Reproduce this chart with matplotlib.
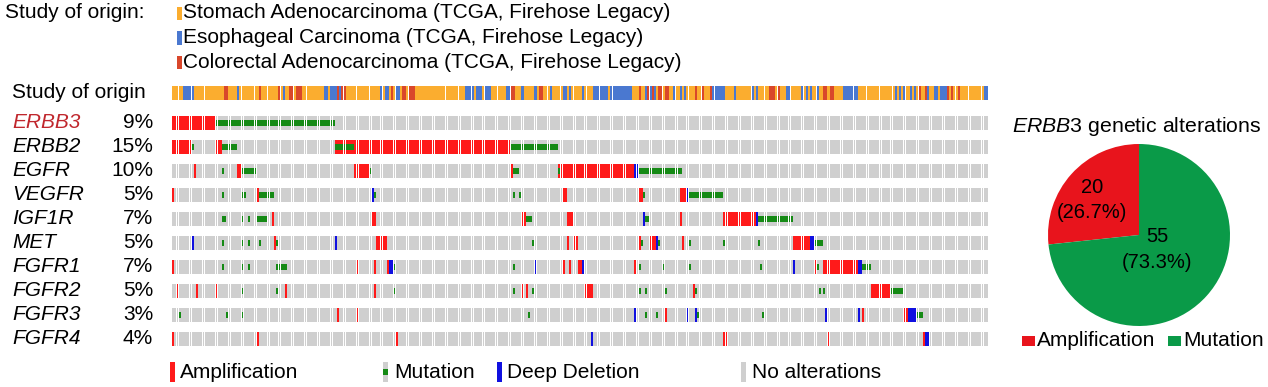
import numpy as np
import matplotlib
matplotlib.use("Agg")
import matplotlib.pyplot as plt
from matplotlib.patches import Rectangle
from matplotlib.transforms import blended_transform_factory

plt.rcParams['font.family'] = ['Liberation Sans', 'DejaVu Sans']
plt.rcParams['mathtext.fontset'] = 'custom'
plt.rcParams['mathtext.it'] = 'Liberation Sans:italic'
plt.rcParams['mathtext.rm'] = 'Liberation Sans'

# ---------------- data ----------------
genes = ["ERBB3", "ERBB2", "EGFR", "VEGFR", "IGF1R", "MET", "FGFR1", "FGFR2", "FGFR3", "FGFR4"]
percents = ["9%", "15%", "10%", "5%", "7%", "5%", "7%", "5%", "3%", "4%"]
n_samples = 376

study_names = ["Stomach Adenocarcinoma (TCGA, Firehose Legacy)",
               "Esophageal Carcinoma (TCGA, Firehose Legacy)",
               "Colorectal Adenocarcinoma (TCGA, Firehose Legacy)"]
study_keys = ["S", "E", "C"]
study_codes = ("SSSSS" "EEEEE" "SSSSSSSSSSSSSS" "CC" "SSSS" "ES" "SSSSSSSS" "CS" "SSSSSSS" "C"
               "SESS" "CCSCCCS" "SSSSSSSSS" "EESEEECECCS" "SSSSSSSSSSSSSSS" "ESEESCSEES"
               "CCSCCCS" "SSSSSSSSSS"
               "SSSSSSSSSSSS" "EEEESEEESEEE" "SSSSSSS" "EE" "CC" "SSSESSSSSES" "CC" "SSSESSSSS"
               "EESES" "SSSSESSSS" "EEEEEEESEEEEEEEEEE" "SSSCSS" "ECECESC" "CSCCSS" "ESSESESSS"
               "SCSSCSSSC" "EEEEEE" "SSSSESSSSSSS" "ESE" "SSSSS" "CCCSC" "SSS" "EE" "SSSSS"
               "ESESESSE" "SS" "CCSCC" "SSSS" "EEEEEEE" "SSSSSSSSSSSSSSSSS" "ESESESSESE"
               "SCSSCESS" "EESEEE" "CSCSSC" "SSSSSSSSSSS" "EE")

# (gene, first sample, last sample)
amp_events = [
    ("ERBB3", 0, 19),
    ("ERBB2", 0, 8), ("ERBB2", 20, 22), ("ERBB2", 75, 155),
    ("EGFR", 10, 10), ("EGFR", 30, 31), ("EGFR", 84, 90), ("EGFR", 156, 156), ("EGFR", 178, 212),
    ("VEGFR", 0, 0), ("VEGFR", 39, 39), ("VEGFR", 180, 181), ("VEGFR", 215, 216), ("VEGFR", 234, 236),
    ("IGF1R", 46, 46), ("IGF1R", 92, 93), ("IGF1R", 161, 162), ("IGF1R", 182, 184), ("IGF1R", 234, 234),
    ("IGF1R", 254, 268),
    ("MET", 47, 47), ("MET", 94, 98), ("MET", 182, 182), ("MET", 185, 186), ("MET", 215, 215),
    ("MET", 220, 222), ("MET", 235, 235), ("MET", 286, 293),
    ("FGFR1", 0, 0), ("FGFR1", 85, 85), ("FGFR1", 93, 93), ("FGFR1", 99, 99), ("FGFR1", 180, 180),
    ("FGFR1", 183, 183), ("FGFR1", 187, 188), ("FGFR1", 213, 213), ("FGFR1", 296, 296), ("FGFR1", 300, 315),
    ("FGFR2", 2, 2), ("FGFR2", 11, 11), ("FGFR2", 20, 20), ("FGFR2", 52, 52), ("FGFR2", 93, 93),
    ("FGFR2", 161, 161), ("FGFR2", 163, 163), ("FGFR2", 190, 193), ("FGFR2", 240, 240), ("FGFR2", 322, 330),
    ("FGFR3", 76, 76), ("FGFR3", 85, 85), ("FGFR3", 227, 227), ("FGFR3", 318, 318), ("FGFR3", 337, 338),
    ("FGFR4", 0, 0), ("FGFR4", 39, 39), ("FGFR4", 103, 103), ("FGFR4", 254, 255), ("FGFR4", 302, 302),
    ("FGFR4", 346, 346),
]
del_events = [
    ("EGFR", 213, 214),
    ("VEGFR", 92, 92), ("VEGFR", 237, 237),
    ("IGF1R", 217, 217), ("IGF1R", 269, 269),
    ("MET", 9, 9), ("MET", 75, 75), ("MET", 223, 223), ("MET", 294, 295),
    ("FGFR1", 100, 101), ("FGFR1", 167, 167), ("FGFR1", 189, 189), ("FGFR1", 286, 286), ("FGFR1", 316, 317),
    ("FGFR3", 213, 213), ("FGFR3", 237, 237), ("FGFR3", 241, 241), ("FGFR3", 301, 301), ("FGFR3", 316, 316),
    ("FGFR3", 339, 342),
    ("FGFR4", 193, 193), ("FGFR4", 347, 348),
]
mut_events = [
    ("ERBB3", 20, 74),
    ("ERBB2", 9, 9), ("ERBB2", 23, 29), ("ERBB2", 75, 83), ("ERBB2", 156, 177),
    ("EGFR", 23, 23), ("EGFR", 32, 38), ("EGFR", 91, 91), ("EGFR", 157, 159), ("EGFR", 178, 178),
    ("EGFR", 215, 234),
    ("VEGFR", 23, 23), ("VEGFR", 32, 33), ("VEGFR", 40, 46), ("VEGFR", 93, 93), ("VEGFR", 157, 157),
    ("VEGFR", 160, 160), ("VEGFR", 217, 217), ("VEGFR", 238, 253),
    ("IGF1R", 23, 24), ("IGF1R", 32, 32), ("IGF1R", 35, 35), ("IGF1R", 39, 43), ("IGF1R", 163, 165),
    ("IGF1R", 218, 219), ("IGF1R", 270, 285),
    ("MET", 23, 23), ("MET", 32, 32), ("MET", 35, 35), ("MET", 40, 40), ("MET", 48, 48), ("MET", 166, 166),
    ("MET", 216, 216), ("MET", 224, 224), ("MET", 238, 238), ("MET", 254, 254), ("MET", 270, 270),
    ("MET", 296, 299),
    ("FGFR1", 23, 23), ("FGFR1", 32, 32), ("FGFR1", 35, 35), ("FGFR1", 48, 52), ("FGFR1", 102, 102),
    ("FGFR1", 157, 157), ("FGFR1", 215, 215), ("FGFR1", 226, 226), ("FGFR1", 238, 238), ("FGFR1", 271, 271),
    ("FGFR1", 297, 297), ("FGFR1", 318, 321),
    ("FGFR2", 32, 32), ("FGFR2", 48, 48), ("FGFR2", 102, 102), ("FGFR2", 157, 157), ("FGFR2", 166, 166),
    ("FGFR2", 215, 215), ("FGFR2", 218, 218), ("FGFR2", 227, 227), ("FGFR2", 241, 241), ("FGFR2", 298, 298),
    ("FGFR2", 300, 300), ("FGFR2", 331, 336),
    ("FGFR3", 3, 3), ("FGFR3", 25, 25), ("FGFR3", 32, 32), ("FGFR3", 164, 164), ("FGFR3", 218, 218),
    ("FGFR3", 223, 223), ("FGFR3", 242, 242), ("FGFR3", 272, 272), ("FGFR3", 343, 345),
]

pie_labels = ["Amplification", "Mutation"]
pie_values = [20, 55]

# ---------------- styles ----------------
W, H = 1268, 387
C_AMP, C_MUT, C_DEL, C_NONE = "#ff1a1a", "#158a15", "#1010e0", "#cfcfcf"
study_colors = {"S": "#fbad2f", "E": "#4a78d0", "C": "#d9472b"}
PIE_RED, PIE_GREEN = "#e8141c", "#0a9a48"
FS = 15

fig = plt.figure(figsize=(W / 100, H / 100), dpi=100)

def fx(px):
    return px / W

def fy(py):
    return 1 - py / H

# main oncoprint axes: rows in row units, pixel mapping y_px = 123 + 24*row
top_px, bot_px = 80, 355
ax = fig.add_axes([fx(172), fy(bot_px), fx(988) - fx(172), fy(top_px) - fy(bot_px)])
ax.set_xlim(-0.5, n_samples - 0.5)
ax.set_ylim((bot_px - 123) / 24, (top_px - 123) / 24)
ax.axis("off")

cell_h = 14 / 24
cell_w = 0.85
xs = np.arange(n_samples)

# study track
study_row = -1.25
ax.bar(xs, cell_h, width=0.95, bottom=study_row - cell_h / 2,
       color=[study_colors[c] for c in study_codes], linewidth=0)

for k, g in enumerate(genes):
    cols = np.array([C_NONE] * n_samples, dtype=object)
    for gg, a, b in amp_events:
        if gg == g:
            cols[a:b + 1] = C_AMP
    for gg, a, b in del_events:
        if gg == g:
            cols[a:b + 1] = C_DEL
    ax.bar(xs, cell_h, width=cell_w, bottom=k - cell_h / 2, color=list(cols), linewidth=0)
    mx = []
    for gg, a, b in mut_events:
        if gg == g:
            mx.extend(range(a, b + 1))
    if mx:
        mh = cell_h * 0.36
        ax.bar(mx, mh, width=cell_w, bottom=k - mh / 2, color=C_MUT, linewidth=0)

# row labels
tr = blended_transform_factory(fig.transFigure, ax.transData)
ax.text(fx(12), study_row, "Study of origin", transform=tr, fontsize=FS, va="center", ha="left")
for k, (g, p) in enumerate(zip(genes, percents)):
    ax.text(fx(12), k, g, transform=tr, fontsize=FS, va="center", ha="left", style="italic",
            color="#c0272d" if k == 0 else "black")
    ax.text(fx(153), k, p, transform=tr, fontsize=FS, va="center", ha="right")

# top legend
fig.text(fx(5), fy(13), "Study of origin:", fontsize=FS, va="center", ha="left")
for i, (key, name) in enumerate(zip(study_keys, study_names)):
    yc = 13 + 24.5 * i
    fig.patches.append(Rectangle((fx(177), fy(yc + 7)), fx(4.5), fy(yc - 6) - fy(yc + 7),
                                 transform=fig.transFigure, color=study_colors[key], linewidth=0))
    fig.text(fx(183), fy(yc), name, fontsize=FS, va="center", ha="left")

# bottom legend
ly = 372
leg_items = [("Amplification", 170, 180, C_AMP, False),
             ("Mutation", 383, 394, C_NONE, True),
             ("Deep Deletion", 497, 507, C_DEL, False),
             ("No alterations", 741, 752, C_NONE, False)]
for name, bx, tx, col, is_mut in leg_items:
    fig.patches.append(Rectangle((fx(bx), fy(ly + 10)), fx(4.5), fy(ly - 10) - fy(ly + 10),
                                 transform=fig.transFigure, color=col, linewidth=0))
    if is_mut:
        fig.patches.append(Rectangle((fx(bx), fy(ly + 3)), fx(4.5), fy(ly - 3) - fy(ly + 3),
                                     transform=fig.transFigure, color=C_MUT, linewidth=0))
    fig.text(fx(tx), fy(ly), name, fontsize=FS, va="center", ha="left")

# pie
pax = fig.add_axes([fx(1048), fy(327), fx(182), fy(0) - fy(184)])
pax.pie(pie_values, colors=[PIE_RED, PIE_GREEN], startangle=90, counterclock=True,
        wedgeprops=dict(linewidth=0))
pax.set_xlim(-1, 1)
pax.set_ylim(-1, 1)
pax.set_aspect("equal")
tot = sum(pie_values)
label_pos = [(1092, 187, 212), (1157, 237, 262)]
for v, (px_, y1, y2) in zip(pie_values, label_pos):
    fig.text(fx(px_), fy(y1), f"{v}", fontsize=14.5, ha="center", va="center")
    fig.text(fx(px_), fy(y2), f"({100 * v / tot:.1f}%)", fontsize=14.5, ha="center", va="center")

fig.text(fx(1137), fy(127), r"$\mathit{ERBB3}$ genetic alterations", fontsize=15.3,
         va="center", ha="center")

pie_leg = [(1022, 1037, PIE_RED, pie_labels[0]), (1168, 1183, PIE_GREEN, pie_labels[1])]
for bx, tx, col, name in pie_leg:
    fig.patches.append(Rectangle((fx(bx), fy(346)), fx(13), fy(336) - fy(346),
                                 transform=fig.transFigure, color=col, linewidth=0))
    fig.text(fx(tx), fy(341), name, fontsize=15, va="center", ha="left")

fig.savefig("out.png", dpi=100)
